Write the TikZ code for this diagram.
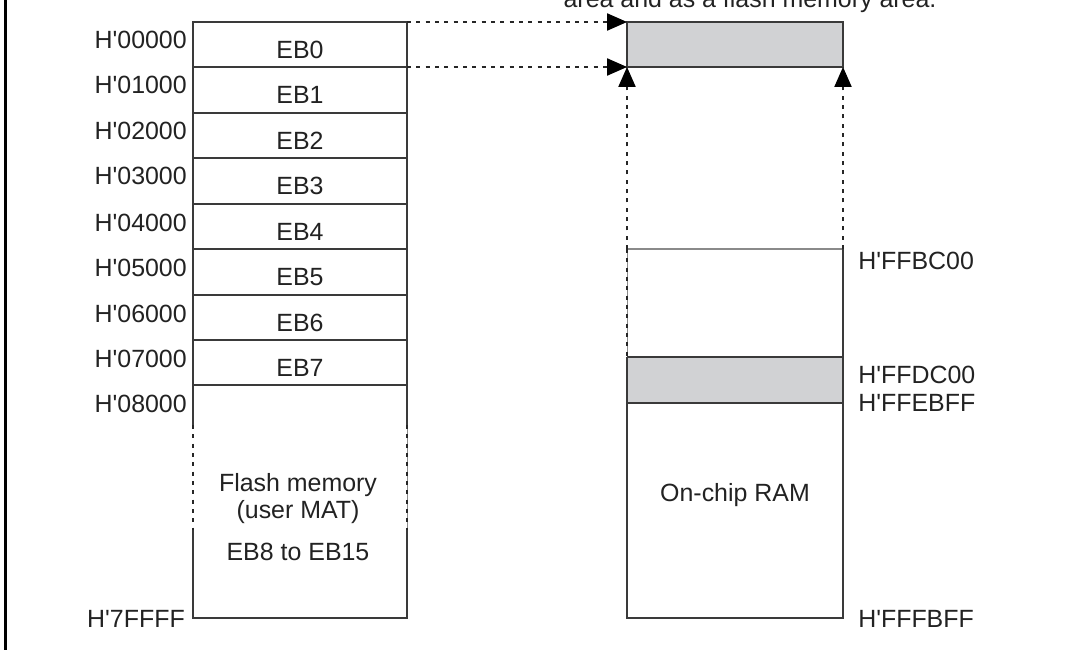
\documentclass[tikz,border=0pt]{standalone}
\usepackage{fontspec}
\setmainfont{Liberation Sans}
\usetikzlibrary{arrows.meta}
\definecolor{lin}{HTML}{3A3A3A}
\definecolor{lgray}{HTML}{8A8A8A}
\definecolor{fillgray}{HTML}{D1D2D4}
\definecolor{txt}{HTML}{222222}
\newcommand{\hq}{H\textquotesingle}
\tikzset{
  box/.style={draw=lin, line width=0.85pt},
  lbox/.style={draw=lgray, line width=0.85pt},
  dashline/.style={draw=black!85, line width=0.8pt, dash pattern=on 3pt off 4pt},
  arr/.style={dashline, -{Triangle[length=15pt,width=13pt,fill=black,color=black]}},
  lbl/.style={font=\fontsize{18.7}{22}\selectfont, text=txt, inner sep=0pt},
}
\begin{document}
\begin{tikzpicture}[x=0.75pt,y=-0.75pt]
\useasboundingbox (0,0) rectangle (1066,649);
\clip (0,0) rectangle (1066,649);
% frame
\draw[line width=2.3pt, black] (5.5,-5) -- (5.5,660);
% caption (cut off at top, as in the reference)
\node[lbl, anchor=base] (cap) at (750,8) {area and as a flash memory area.};
% left column: EB0..EB7
\draw[box] (193,22) rectangle (407,385);
\foreach \y in {67,113,158,204,249,295,340}{\draw[box] (193,\y) -- (407,\y);}
% flash lower part
\draw[box] (193,385) -- (193,425);
\draw[box] (407,385) -- (407,425);
\draw[box] (193,530) -- (193,618) -- (407,618) -- (407,530);
\draw[dashline] (193,425) -- (193,530);
\draw[lbox, line width=0.6pt] (407,425) -- (407,530);
\draw[dashline] (407,425) -- (407,530);
% addresses left
\foreach \t/\y in {00000/22,01000/67,02000/113,03000/158,04000/204,05000/249,06000/295,07000/340,08000/385}{
  \node[lbl, anchor=base east] (a\t) at (187,\y+27) {\hq\t};
}
\node[lbl, anchor=base east] (a7FFFF) at (185,627) {\hq 7FFFF};
% EB labels
\foreach \n/\y in {0/22,1/67,2/113,3/158,4/204,5/249,6/295,7/340}{
  \node[lbl, anchor=base] (eb\n) at (300,\y+36.5) {EB\n};
}
\node[lbl, anchor=base] (fm1) at (298,491) {Flash memory};
\node[lbl, anchor=base] (fm2) at (298,518) {(user MAT)};
\node[lbl, anchor=base] (fm3) at (298,560) {EB8 to EB15};
% right column
\fill[fillgray] (627,22) rectangle (843,67);
\draw[box] (627,22) rectangle (843,67);
\fill[fillgray] (627,357) rectangle (843,403);
\draw[lbox] (627,249) -- (843,249);
\draw[box] (843,249) -- (843,618) -- (627,618) -- (627,357);
\draw[lbox, line width=0.6pt] (627,249) -- (627,357);
\draw[dashline] (627,249) -- (627,357);
\draw[box] (627,357) -- (843,357);
\draw[box] (627,403) -- (843,403);
\node[lbl, anchor=base] (ram) at (735,501) {On-chip RAM};
\node[lbl, anchor=base west] (bc00) at (858,269) {\hq FFBC00};
\node[lbl, anchor=base west] (dc00) at (858,383) {\hq FFDC00};
\node[lbl, anchor=base west] (ebff) at (858,411) {\hq FFEBFF};
\node[lbl, anchor=base west] (fbff) at (858,627) {\hq FFFBFF};
% connectors
\coordinate (s0) at (407,22);
\coordinate (s1) at (407,67);
\coordinate (t0) at (627,22);
\coordinate (t1) at (627,67);
\coordinate (r1) at (843,67);
\coordinate (u0) at (627,249);
\coordinate (u1) at (843,249);
\draw[arr] (s0) -- (t0);
\draw[arr] (s1) -- (t1);
\draw[arr] (u0) -- (t1);
\draw[arr] (u1) -- (r1);
\end{tikzpicture}
\end{document}
